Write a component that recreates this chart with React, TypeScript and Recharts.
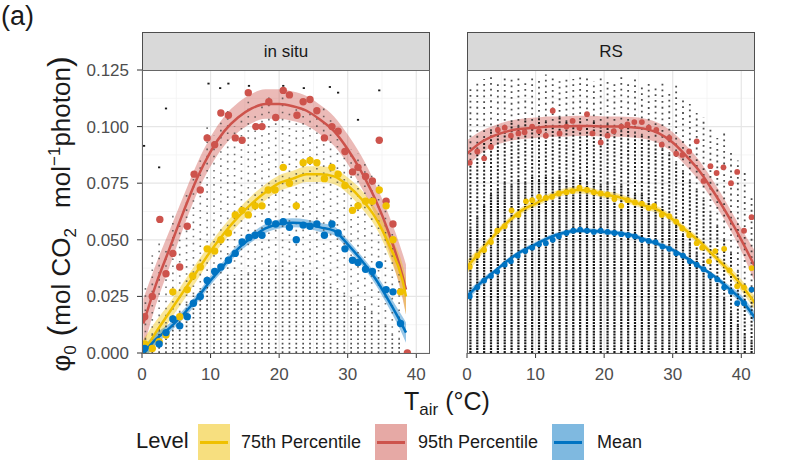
import React from 'react'
import {
  ComposedChart,
  XAxis,
  YAxis,
  CartesianGrid,
  Line,
  Area,
  Scatter,
  ReferenceLine,
} from 'recharts'

const YELLOW = '#EFC000'
const RED = '#CD534C'
const BLUE = '#0073C2'
const FONT = '"Liberation Sans", Arial, Helvetica, sans-serif'

const xTicks = [0, 10, 20, 30, 40]
const yTicks = [0, 0.025, 0.05, 0.075, 0.1, 0.125]
const xMinor = [5, 15, 25, 35]
const yMinor = [0.0125, 0.0375, 0.0625, 0.0875, 0.1125]

// ---- in situ: smooth fits (value and band half-width) ----
const inSituFitX = [0.2, 2, 4, 6, 8, 10, 12, 14, 16, 18, 20, 22, 24, 26, 28, 30, 32, 34, 36, 38, 38.5]
const inSitu95Fit = [0.013, 0.03, 0.046, 0.062, 0.077, 0.089, 0.098, 0.104, 0.108, 0.11, 0.11, 0.109, 0.107, 0.103, 0.098, 0.09, 0.08, 0.068, 0.053, 0.034, 0.028]
const inSitu95Se = [0.011, 0.009, 0.008, 0.007, 0.0065, 0.0065, 0.0065, 0.0065, 0.0065, 0.0065, 0.0065, 0.0065, 0.0065, 0.0065, 0.0065, 0.0065, 0.007, 0.007, 0.008, 0.01, 0.011]
const inSitu75Fit = [0.0, 0.009, 0.018, 0.027, 0.036, 0.045, 0.053, 0.06, 0.066, 0.071, 0.075, 0.077, 0.079, 0.079, 0.078, 0.074, 0.068, 0.06, 0.048, 0.032, 0.025]
const inSitu75Se = [0.006, 0.005, 0.004, 0.004, 0.004, 0.0035, 0.0035, 0.0035, 0.0035, 0.0035, 0.0035, 0.0035, 0.0035, 0.0035, 0.0035, 0.0035, 0.004, 0.004, 0.005, 0.007, 0.008]
const inSituMeanFit = [0.0, 0.006, 0.011, 0.017, 0.024, 0.032, 0.039, 0.046, 0.051, 0.055, 0.057, 0.0575, 0.057, 0.0555, 0.054, 0.048, 0.041, 0.033, 0.023, 0.012, 0.009]
const inSituMeanSe = [0.003, 0.0025, 0.002, 0.002, 0.002, 0.002, 0.002, 0.002, 0.002, 0.002, 0.002, 0.002, 0.002, 0.002, 0.002, 0.002, 0.002, 0.0025, 0.003, 0.004, 0.0045]

// ---- in situ: binned points ----
const inSitu95Pts: [number, number][] = [
  [0.4, 0.016], [1.5, 0.025], [2.6, 0.059], [3.5, 0.035], [4.5, 0.044], [5.5, 0.038], [6.6, 0.056],
  [7.6, 0.079], [8.5, 0.072], [9.5, 0.095], [10.6, 0.092], [11.5, 0.106], [12.6, 0.105], [13.6, 0.095],
  [14.6, 0.094], [15.5, 0.115], [16.6, 0.1], [17.5, 0.1], [18.5, 0.111], [19.5, 0.104], [20.6, 0.116],
  [21.5, 0.114], [22.6, 0.105], [23.5, 0.111], [24.5, 0.112], [25.5, 0.107], [26.6, 0.095], [27.7, 0.1],
  [28.6, 0.098], [29.6, 0.089], [30.7, 0.08], [31.5, 0.082], [32.6, 0.078], [33.6, 0.076], [34.6, 0.094],
  [35.6, 0.067], [36.6, 0.057], [38.7, 0.0],
]
const inSitu75Pts: [number, number][] = [
  [0.4, 0.004], [1.5, 0.002], [2.5, 0.005], [3.5, 0.008], [4.5, 0.027], [5.5, 0.016], [6.6, 0.028],
  [7.4, 0.034], [8.5, 0.038], [9.5, 0.046], [10.6, 0.045], [11.5, 0.05], [12.6, 0.053], [13.6, 0.061],
  [14.6, 0.063], [15.5, 0.061], [16.5, 0.065], [17.5, 0.065], [18.4, 0.072], [19.4, 0.072], [20.6, 0.082],
  [21.5, 0.075], [22.5, 0.065], [23.5, 0.084], [24.5, 0.085], [25.5, 0.084], [26.6, 0.077], [27.7, 0.082],
  [28.6, 0.079], [29.6, 0.074], [30.7, 0.063], [31.5, 0.065], [32.6, 0.067], [33.6, 0.067], [34.6, 0.072],
  [35.6, 0.065], [36.6, 0.05], [37.7, 0.027],
]
const inSituMeanPts: [number, number][] = [
  [0.4, 0.002], [2.5, 0.004], [3.5, 0.009], [4.5, 0.015], [5.5, 0.012], [6.6, 0.016], [7.5, 0.022],
  [8.5, 0.025], [9.5, 0.032], [10.6, 0.036], [11.5, 0.038], [12.6, 0.041], [13.6, 0.044], [14.6, 0.049],
  [15.6, 0.051], [16.5, 0.052], [17.5, 0.052], [18.4, 0.058], [19.5, 0.057], [20.6, 0.058], [21.5, 0.0555],
  [22.5, 0.05], [23.5, 0.0565], [24.5, 0.056], [25.5, 0.057], [26.6, 0.052], [27.7, 0.057], [28.6, 0.053],
  [29.6, 0.046], [30.7, 0.041], [31.5, 0.04], [32.6, 0.037], [33.6, 0.036], [34.6, 0.039], [35.6, 0.028],
  [36.6, 0.027], [37.7, 0.013],
]

// ---- in situ: raw observations, one column per degree [T, dense top, sparse top] ----
const inSituRaw: [number, number, number][] = [
  [0.5, 0.006, 0.03], [1.5, 0.008, 0.045], [2.5, 0.01, 0.05], [3.5, 0.013, 0.045], [4.5, 0.016, 0.062],
  [5.5, 0.018, 0.058], [6.5, 0.022, 0.07], [7.5, 0.026, 0.078], [8.5, 0.028, 0.085], [9.5, 0.03, 0.1],
  [10.5, 0.03, 0.096], [11.5, 0.032, 0.103], [12.5, 0.034, 0.108], [13.5, 0.034, 0.1], [14.5, 0.036, 0.104],
  [15.5, 0.035, 0.112], [16.5, 0.038, 0.106], [17.5, 0.036, 0.11], [18.5, 0.04, 0.113], [19.5, 0.038, 0.106],
  [20.5, 0.04, 0.115], [21.5, 0.036, 0.108], [22.5, 0.038, 0.11], [23.5, 0.035, 0.113], [24.5, 0.036, 0.106],
  [25.5, 0.034, 0.108], [26.5, 0.032, 0.11], [27.5, 0.03, 0.104], [28.5, 0.028, 0.098], [29.5, 0.026, 0.094],
  [30.5, 0.024, 0.09], [31.5, 0.022, 0.088], [32.5, 0.02, 0.085], [33.5, 0.018, 0.08], [34.5, 0.014, 0.075],
  [35.5, 0.012, 0.065], [36.5, 0.008, 0.055], [37.5, 0.006, 0.04],
]
const inSituOutliers: [number, number][] = [
  [0.3, 0.0915], [2.5, 0.082], [3.5, 0.108], [9.7, 0.119], [11.4, 0.117], [12.6, 0.119], [15.6, 0.118],
  [20.6, 0.118], [23.6, 0.117], [27.4, 0.1175], [31.5, 0.103], [34.6, 0.116], [28.6, 0.115],
]

// ---- RS: smooth fits ----
const rsFitX = [0, 2, 4, 6, 8, 10, 12, 14, 16, 18, 20, 22, 24, 26, 28, 30, 32, 34, 36, 38, 40, 42]
const rs95Fit = [0.088, 0.093, 0.096, 0.098, 0.099, 0.0995, 0.1, 0.1, 0.1003, 0.1003, 0.1, 0.1, 0.0997, 0.099, 0.097, 0.093, 0.087, 0.08, 0.071, 0.061, 0.05, 0.038]
const rs95Se = [0.006, 0.005, 0.0045, 0.0045, 0.0045, 0.0045, 0.0045, 0.0045, 0.0045, 0.0045, 0.0045, 0.0045, 0.0045, 0.0045, 0.0045, 0.0045, 0.0045, 0.0045, 0.0045, 0.0045, 0.005, 0.007]
const rs75Fit = [0.038, 0.045, 0.052, 0.058, 0.063, 0.066, 0.069, 0.071, 0.072, 0.0715, 0.07, 0.069, 0.067, 0.065, 0.063, 0.059, 0.054, 0.049, 0.043, 0.037, 0.03, 0.022]
const rs75Se = [0.003, 0.002, 0.0015, 0.0015, 0.0015, 0.0015, 0.0015, 0.0015, 0.0015, 0.0015, 0.0015, 0.0015, 0.0015, 0.0015, 0.0015, 0.0015, 0.0015, 0.0015, 0.0015, 0.002, 0.0025, 0.003]
const rsMeanFit = [0.025, 0.031, 0.036, 0.041, 0.045, 0.048, 0.051, 0.053, 0.054, 0.054, 0.0535, 0.053, 0.052, 0.05, 0.048, 0.0455, 0.042, 0.038, 0.034, 0.029, 0.0235, 0.0155]
const rsMeanSe = [0.002, 0.0015, 0.001, 0.001, 0.001, 0.001, 0.001, 0.001, 0.001, 0.001, 0.001, 0.001, 0.001, 0.001, 0.001, 0.001, 0.001, 0.001, 0.001, 0.0015, 0.002, 0.0025]

// ---- RS: binned points ----
const rs95Pts: [number, number][] = [
  [0.4, 0.084], [1.5, 0.089], [2.5, 0.086], [3.5, 0.091], [4.5, 0.0985], [5.5, 0.0995], [6.4, 0.096],
  [7.5, 0.097], [8.4, 0.0975], [9.5, 0.1], [10.5, 0.098], [11.5, 0.096], [12.5, 0.107], [13.5, 0.097],
  [14.5, 0.1], [15.4, 0.1025], [16.4, 0.0995], [17.5, 0.1055], [18.3, 0.097], [19.5, 0.093], [20.5, 0.096],
  [21.4, 0.098], [22.5, 0.1], [23.4, 0.101], [24.4, 0.102], [25.5, 0.102], [26.5, 0.0995], [27.6, 0.0985],
  [28.4, 0.092], [29.5, 0.095], [30.5, 0.088], [31.4, 0.0875], [32.4, 0.089], [33.5, 0.0935], [34.5, 0.076],
  [35.5, 0.0825], [36.4, 0.0795], [37.4, 0.082], [38.5, 0.075], [39.4, 0.08], [40.4, 0.054], [41.5, 0.06],
]
const rs75Pts: [number, number][] = [
  [0.4, 0.038], [1.5, 0.043], [2.5, 0.0455], [3.5, 0.049], [4.4, 0.054], [5.5, 0.056], [6.5, 0.063],
  [7.5, 0.061], [8.6, 0.067], [9.5, 0.0675], [10.5, 0.069], [11.5, 0.0685], [12.4, 0.069], [13.4, 0.0705],
  [14.5, 0.071], [15.4, 0.0715], [16.4, 0.073], [17.5, 0.072], [18.5, 0.071], [19.5, 0.0705], [20.5, 0.07],
  [21.5, 0.068], [22.5, 0.065], [23.4, 0.0675], [24.5, 0.0665], [25.5, 0.066], [26.5, 0.064], [27.3, 0.065],
  [28.4, 0.061], [29.5, 0.0605], [30.5, 0.058], [31.4, 0.055], [32.4, 0.052], [33.5, 0.0485], [34.3, 0.0465],
  [35.3, 0.0405], [36.2, 0.045], [37.5, 0.046], [38.3, 0.0365], [39.4, 0.0295], [40.4, 0.029], [41.5, 0.0375],
]
const rsMeanPts: [number, number][] = [
  [0.4, 0.025], [1.5, 0.029], [2.5, 0.032], [3.5, 0.034], [4.4, 0.036], [5.5, 0.039], [6.4, 0.0405],
  [7.4, 0.043], [8.5, 0.045], [9.5, 0.0465], [10.5, 0.048], [11.5, 0.0485], [12.5, 0.05], [13.4, 0.0515],
  [14.5, 0.053], [15.5, 0.054], [16.5, 0.0545], [17.5, 0.054], [18.5, 0.0535], [19.5, 0.054], [20.5, 0.0535],
  [21.5, 0.053], [22.5, 0.0525], [23.5, 0.052], [24.5, 0.0515], [25.5, 0.05], [26.5, 0.0495], [27.5, 0.049],
  [28.5, 0.047], [29.5, 0.046], [30.5, 0.044], [31.5, 0.043], [32.5, 0.0405], [33.5, 0.039], [34.5, 0.037],
  [35.5, 0.034], [36.5, 0.0325], [37.5, 0.029], [38.5, 0.027], [39.4, 0.022], [40.4, 0.022], [41.5, 0.028],
]

// ---- RS: raw observations per degree [T, heavy top, medium top, sparse top] ----
const rsRaw: [number, number, number, number][] = [
  [0.5, 0.055, 0.085, 0.118], [1.5, 0.06, 0.09, 0.12], [2.5, 0.065, 0.095, 0.121], [3.5, 0.07, 0.098, 0.122],
  [4.5, 0.072, 0.1, 0.12], [5.5, 0.075, 0.1, 0.122], [6.5, 0.074, 0.102, 0.121], [7.5, 0.076, 0.1, 0.123],
  [8.5, 0.075, 0.103, 0.12], [9.5, 0.078, 0.1, 0.122], [10.5, 0.076, 0.104, 0.121], [11.5, 0.078, 0.102, 0.123],
  [12.5, 0.077, 0.1, 0.122], [13.5, 0.078, 0.104, 0.12], [14.5, 0.076, 0.102, 0.122], [15.5, 0.077, 0.1, 0.121],
  [16.5, 0.078, 0.103, 0.123], [17.5, 0.075, 0.1, 0.122], [18.5, 0.076, 0.102, 0.12], [19.5, 0.074, 0.1, 0.122],
  [20.5, 0.075, 0.101, 0.121], [21.5, 0.073, 0.1, 0.12], [22.5, 0.074, 0.098, 0.122], [23.5, 0.072, 0.1, 0.12],
  [24.5, 0.07, 0.097, 0.121], [25.5, 0.07, 0.096, 0.119], [26.5, 0.068, 0.095, 0.12], [27.5, 0.066, 0.093, 0.118],
  [28.5, 0.064, 0.09, 0.119], [29.5, 0.06, 0.088, 0.116], [30.5, 0.056, 0.084, 0.118], [31.5, 0.052, 0.08, 0.112],
  [32.5, 0.048, 0.076, 0.11], [33.5, 0.044, 0.072, 0.106], [34.5, 0.04, 0.068, 0.104], [35.5, 0.035, 0.062, 0.1],
  [36.5, 0.03, 0.056, 0.095], [37.5, 0.024, 0.05, 0.098], [38.5, 0.018, 0.044, 0.09], [39.5, 0.012, 0.036, 0.085],
  [40.5, 0.008, 0.03, 0.08], [41.5, 0.005, 0.024, 0.07],
]

type Row = Record<string, number | number[]>

function fitRows(xs: number[], f95: number[], s95: number[], f75: number[], s75: number[], fm: number[], sm: number[]): Row[] {
  return xs.map((x, i) => ({
    x,
    f95: f95[i],
    b95: [f95[i] - s95[i], f95[i] + s95[i]],
    f75: f75[i],
    b75: [f75[i] - s75[i], f75[i] + s75[i]],
    fm: fm[i],
    bm: [fm[i] - sm[i], fm[i] + sm[i]],
  }))
}

const toPts = (pts: [number, number][]) => pts.map(([x, y]) => ({ x, y }))

const dot = (r: number, fill: string) => (p: any) => <circle cx={p.cx} cy={p.cy} r={r} fill={fill} />

type Density = 'heavy' | 'medium' | 'sparse' | 'light' | 'faint'

const columnStyles: Record<Density, object> = {
  heavy: { stroke: '#000', strokeWidth: 2.2, strokeDasharray: '2 0.9', strokeOpacity: 0.9 },
  medium: { stroke: '#000', strokeWidth: 2, strokeDasharray: '2 1.8', strokeOpacity: 0.85 },
  sparse: { stroke: '#111', strokeWidth: 1.8, strokeDasharray: '1.8 4', strokeOpacity: 0.75 },
  light: { stroke: '#222', strokeWidth: 1.7, strokeDasharray: '1.7 2.6', strokeOpacity: 0.8 },
  faint: { stroke: '#333', strokeWidth: 1.6, strokeDasharray: '1.6 5.5', strokeOpacity: 0.7 },
}

// dotted vertical runs standing in for the stacked raw points
function rawColumn(x: number, lo: number, hi: number, kind: Density, key: string) {
  return (
    <ReferenceLine
      key={key}
      segment={[{ x, y: lo }, { x, y: hi }]}
      ifOverflow="extendDomain"
      {...columnStyles[kind]}
    />
  )
}

interface PanelProps {
  rows: Row[]
  p95: { x: number; y: number }[]
  p75: { x: number; y: number }[]
  pm: { x: number; y: number }[]
  raw: React.ReactNode[]
  dotR: number
  showY: boolean
  left: number
  width: number
  marginLeft: number
}

function Panel({ rows, p95, p75, pm, raw, dotR, showY, left, width, marginLeft }: PanelProps) {
  const tickStyle = { fill: '#4d4d4d', fontSize: 17, fontFamily: FONT }
  return (
    <div style={{ position: 'absolute', left, top: 60 }}>
      <ComposedChart width={width} height={323} margin={{ top: 10, right: 5, left: marginLeft, bottom: 0 }}>
        <CartesianGrid verticalValues={xMinor} horizontalValues={yMinor} stroke="#f2f2f2" strokeWidth={0.8} />
        <CartesianGrid verticalValues={xTicks} horizontalValues={yTicks} stroke="#e6e6e6" strokeWidth={1.2} />
        <XAxis
          type="number"
          dataKey="x"
          domain={[0, 42]}
          ticks={xTicks}
          allowDataOverflow
          axisLine={false}
          tickLine={{ stroke: '#333' }}
          tickSize={5}
          tickMargin={10}
          tick={tickStyle}
          height={30}
        />
        <YAxis
          type="number"
          domain={[0, 0.125]}
          ticks={yTicks}
          allowDataOverflow
          hide={!showY}
          width={showY ? 102 : 0}
          axisLine={false}
          tickLine={{ stroke: '#333' }}
          tickSize={5}
          tickMargin={8}
          tick={tickStyle}
          tickFormatter={(v: number) => v.toFixed(3)}
        />
        {raw}
        <Area data={rows} dataKey="b95" type="monotone" stroke="none" fill={RED} fillOpacity={0.4} isAnimationActive={false} />
        <Area data={rows} dataKey="b75" type="monotone" stroke="none" fill={YELLOW} fillOpacity={0.4} isAnimationActive={false} />
        <Area data={rows} dataKey="bm" type="monotone" stroke="none" fill={BLUE} fillOpacity={0.4} isAnimationActive={false} />
        <Scatter data={p95} dataKey="y" shape={dot(dotR, RED)} isAnimationActive={false} />
        <Scatter data={p75} dataKey="y" shape={dot(dotR, YELLOW)} isAnimationActive={false} />
        <Scatter data={pm} dataKey="y" shape={dot(dotR, BLUE)} isAnimationActive={false} />
        <Line data={rows} dataKey="f95" type="monotone" stroke={RED} strokeWidth={2.5} dot={false} isAnimationActive={false} />
        <Line data={rows} dataKey="f75" type="monotone" stroke={YELLOW} strokeWidth={2.5} dot={false} isAnimationActive={false} />
        <Line data={rows} dataKey="fm" type="monotone" stroke={BLUE} strokeWidth={2.5} dot={false} isAnimationActive={false} />
      </ComposedChart>
    </div>
  )
}

function Strip({ left, label }: { left: number; label: string }) {
  return (
    <>
      <div
        style={{
          position: 'absolute', left, top: 32, width: 288, height: 39, boxSizing: 'border-box',
          background: '#d9d9d9', border: '1px solid #4d4d4d', display: 'flex', alignItems: 'center',
          justifyContent: 'center', fontSize: 17, color: '#1a1a1a',
        }}
      >
        {label}
      </div>
      <div
        style={{
          position: 'absolute', left, top: 70, width: 288, height: 284, boxSizing: 'border-box',
          border: '1px solid #666', pointerEvents: 'none',
        }}
      />
    </>
  )
}

function LegendKey({ left, color }: { left: number; color: string }) {
  return (
    <div style={{ position: 'absolute', left, top: 424, width: 32, height: 36, background: color + '80' }}>
      <div style={{ position: 'absolute', left: 2, right: 2, top: 16.5, height: 3, background: color }} />
    </div>
  )
}

const sub = { fontSize: 17, verticalAlign: '-0.3em' }
const bigParen = { fontSize: 32, fontWeight: 300 }

export default function App() {
  const inSituRows = fitRows(inSituFitX, inSitu95Fit, inSitu95Se, inSitu75Fit, inSitu75Se, inSituMeanFit, inSituMeanSe)
  const rsRows = fitRows(rsFitX, rs95Fit, rs95Se, rs75Fit, rs75Se, rsMeanFit, rsMeanSe)

  const inSituMarks = [
    ...inSituRaw.flatMap(([x, dense, top], i) => [
      rawColumn(x, 0, dense, 'light', `id${i}`),
      rawColumn(x, dense, top, 'faint', `is${i}`),
    ]),
    ...inSituOutliers.map(([x, y], i) => rawColumn(x, y - 0.0004, y + 0.0004, 'heavy', `io${i}`)),
  ]
  const rsMarks = rsRaw.flatMap(([x, heavy, medium, top], i) => [
    rawColumn(x, 0, heavy, 'heavy', `rh${i}`),
    rawColumn(x, heavy, medium, 'medium', `rm${i}`),
    rawColumn(x, medium, top, 'sparse', `rs${i}`),
  ])

  return (
    <div style={{ position: 'absolute', left: 0, top: 0, width: 794, height: 468, background: '#fff', fontFamily: FONT, color: '#1a1a1a', overflow: 'hidden' }}>
      <Panel rows={inSituRows} p95={toPts(inSitu95Pts)} p75={toPts(inSitu75Pts)} pm={toPts(inSituMeanPts)}
        raw={inSituMarks} dotR={3.7} showY left={40} width={395} marginLeft={0} />
      <Panel rows={rsRows} p95={toPts(rs95Pts)} p75={toPts(rs75Pts)} pm={toPts(rsMeanPts)}
        raw={rsMarks} dotR={2.9} showY={false} left={447} width={313} marginLeft={20} />

      <Strip left={142} label="in situ" />
      <Strip left={467} label="RS" />

      <div style={{ position: 'absolute', left: 1, top: 3, fontSize: 27, lineHeight: 1 }}>(a)</div>

      <div
        style={{
          position: 'absolute', left: 61, top: 214, transform: 'translate(-50%, -50%) rotate(-90deg)',
          whiteSpace: 'pre', fontSize: 26, lineHeight: 1,
        }}
      >
        φ<span style={sub}>0</span>
        <span style={bigParen}> (</span>mol CO<span style={sub}>2</span>
        {'\u2002 '}mol<span style={{ fontSize: 17, verticalAlign: '0.6em' }}>−1</span>photon
        <span style={bigParen}>)</span>
      </div>

      <div style={{ position: 'absolute', left: 404, top: 389, whiteSpace: 'nowrap', fontSize: 25, lineHeight: 1 }}>
        T<span style={sub}>air</span> (°C)
      </div>

      <div style={{ position: 'absolute', left: 136, top: 430, fontSize: 22, lineHeight: 1 }}>Level</div>
      <LegendKey left={198} color={YELLOW} />
      <div style={{ position: 'absolute', left: 241, top: 433, fontSize: 18, lineHeight: 1 }}>75th Percentile</div>
      <LegendKey left={375} color={RED} />
      <div style={{ position: 'absolute', left: 418, top: 433, fontSize: 18, lineHeight: 1 }}>95th Percentile</div>
      <LegendKey left={552} color={BLUE} />
      <div style={{ position: 'absolute', left: 597, top: 433, fontSize: 18, lineHeight: 1 }}>Mean</div>
    </div>
  )
}
